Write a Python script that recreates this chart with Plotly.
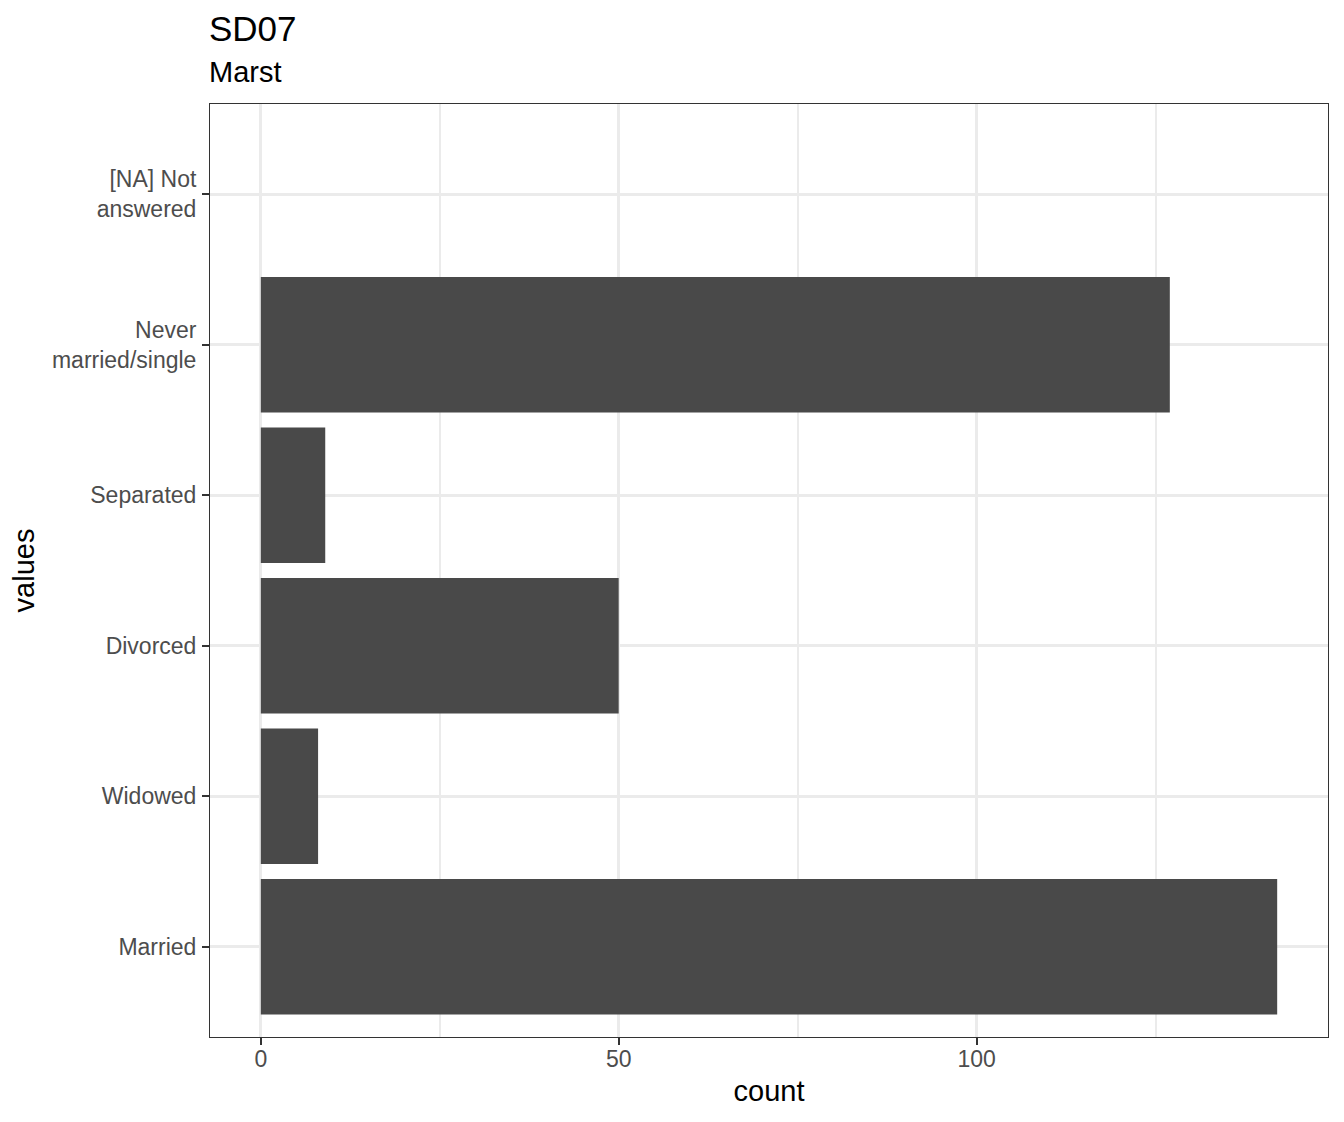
import plotly.graph_objects as go

# categories bottom -> top, as in the reference
categories = ["Married", "Widowed", "Divorced", "Separated",
              "Never<br>married/single", "[NA] Not<br>answered"]
counts = [142, 8, 50, 9, 127, 0]

x_ticks = [0, 50, 100]
x_minor = [25, 75, 125]
title = "SD07"
subtitle = "Marst"

# page body has an 8px margin, so the figure is a bit smaller than the window
W, H = 1336, 1114
L, R, T, B = 202, 16, 96, 85
plot_h = H - T - B


def paper_y(ypix):
    # pixel row inside the figure -> paper coordinate
    return 1 + (T - ypix) / plot_h


fig = go.Figure()
fig.add_trace(go.Bar(
    x=counts,
    y=categories,
    orientation="h",
    width=0.9,
    marker=dict(color="#494949", line=dict(width=0)),
    hoverinfo="x+y",
))

fig.add_annotation(text=title, xref="paper", yref="paper", x=0, y=paper_y(20),
                   xanchor="left", yanchor="middle", showarrow=False,
                   font=dict(size=35, color="black"), xshift=-3)
fig.add_annotation(text=subtitle, xref="paper", yref="paper", x=0, y=paper_y(64),
                   xanchor="left", yanchor="middle", showarrow=False,
                   font=dict(size=29, color="black"), xshift=-3)

fig.update_layout(
    width=W,
    height=H,
    margin=dict(l=L, r=R, t=T, b=B),
    paper_bgcolor="white",
    plot_bgcolor="white",
    showlegend=False,
    font=dict(family="Liberation Sans, Arial, sans-serif", color="#4d4d4d"),
    xaxis=dict(
        range=[-7.1, 149.1],
        tickvals=x_ticks,
        ticktext=[str(v) for v in x_ticks],
        showgrid=True, gridcolor="#ebebeb", gridwidth=3,
        minor=dict(tickvals=x_minor, showgrid=True,
                   gridcolor="#ebebeb", gridwidth=1.5, ticks=""),
        zeroline=False,
        ticks="outside", ticklen=7, tickwidth=2, tickcolor="#333333",
        ticklabelstandoff=-6,
        tickfont=dict(size=23, color="#4d4d4d"),
        showline=True, linecolor="#333333", linewidth=1, mirror=True,
        title=dict(text="count", font=dict(size=29, color="black"), standoff=10),
    ),
    yaxis=dict(
        type="category",
        categoryorder="array",
        categoryarray=categories,
        range=[-0.6, 5.6],
        showgrid=True, gridcolor="#ebebeb", gridwidth=3,
        zeroline=False,
        ticks="outside", ticklen=7, tickwidth=2, tickcolor="#333333",
        ticklabelstandoff=1,
        tickfont=dict(size=23, color="#4d4d4d"),
        showline=True, linecolor="#333333", linewidth=1, mirror=True,
        title=dict(text="values", font=dict(size=29, color="black"), standoff=8),
    ),
)

fig.write_html("out.html")
